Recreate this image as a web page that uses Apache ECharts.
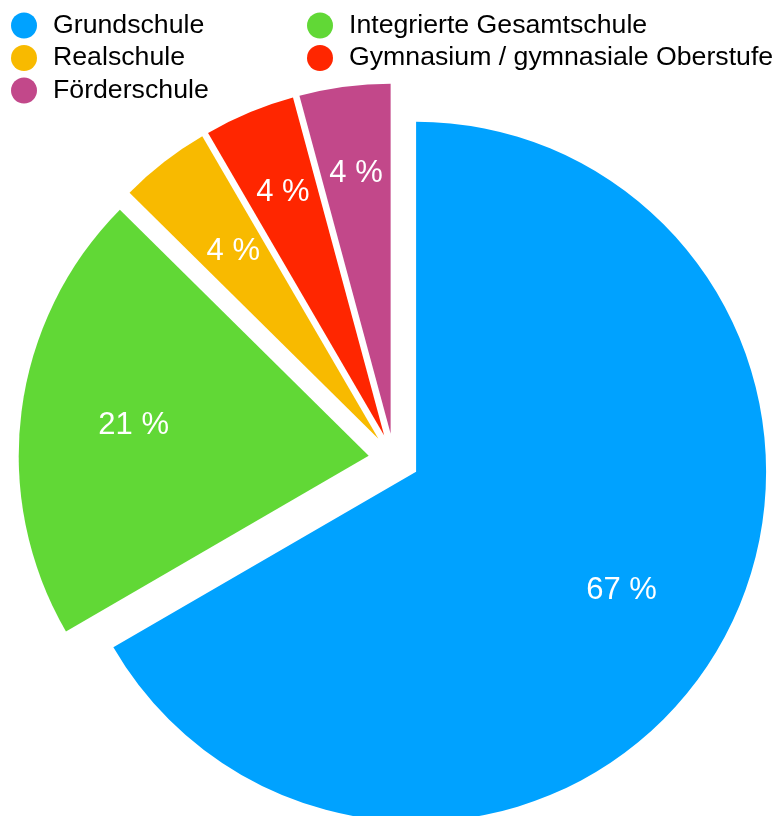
<!DOCTYPE html>
<html>
<head>
<meta charset="utf-8">
<script src="https://cdn.jsdelivr.net/npm/echarts@6/dist/echarts.min.js"></script>
<style>
html,body{margin:0;padding:0;background:#fff;}
#chart{width:779px;height:816px;}
</style>
</head>
<body>
<div id="chart"></div>
<script>
const categories = ['Grundschule', 'Integrierte Gesamtschule', 'Realschule', 'Gymnasium / gymnasiale Oberstufe', 'Förderschule'];
const values = [66.7, 20.8, 4.2, 4.2, 4.2];
const colors = ['#00A2FF', '#61D836', '#F8BA00', '#FF2600', '#C2488A'];
const outerLabelIdx = [3, 4];

const FONT = '"Liberation Sans", Arial, Helvetica, sans-serif';
const CENTER = [394, 459];
const R = 350;
const OFFSET = 25.5;

const pieData = categories.map((c, i) => ({
  name: c, value: values[i], selected: true,
  itemStyle: { color: colors[i] }
}));

function labelSeries(inner, showIdx) {
  return {
    type: 'pie',
    silent: true,
    startAngle: 90,
    clockwise: true,
    center: CENTER,
    radius: [inner, R],
    selectedMode: 'multiple',
    selectedOffset: OFFSET,
    itemStyle: { color: 'rgba(0,0,0,0)', borderWidth: 0 },
    labelLine: { show: false },
    data: values.map((v, i) => ({
      name: 'lbl' + inner + '_' + i, value: v, selected: true,
      label: {
        show: showIdx.includes(i),
        position: 'inside',
        formatter: Math.round(v) + ' %',
        color: '#fff',
        fontSize: 31,
        fontFamily: FONT
      }
    }))
  };
}

const legendText = { fontSize: 26.7, lineHeight: 26, color: '#000', fontFamily: FONT, padding: [0, 0, 0, 11] };

const chart = echarts.init(document.getElementById('chart'));
chart.setOption({
  animation: false,
  backgroundColor: '#fff',
  legend: [
    {
      orient: 'vertical', left: 11, top: 12, padding: 0,
      icon: 'circle', itemWidth: 26, itemHeight: 26, itemGap: 5.5,
      data: [categories[0], categories[2], categories[4]],
      textStyle: legendText,
      selectedMode: false
    },
    {
      orient: 'vertical', left: 307, top: 12, padding: 0,
      icon: 'circle', itemWidth: 26, itemHeight: 26, itemGap: 5.5,
      data: [categories[1], categories[3]],
      textStyle: legendText,
      selectedMode: false
    }
  ],
  series: [
    {
      type: 'pie',
      startAngle: 90,
      clockwise: true,
      center: CENTER,
      radius: [0, R],
      selectedMode: 'multiple',
      selectedOffset: OFFSET,
      itemStyle: { borderWidth: 0 },
      label: { show: false },
      labelLine: { show: false },
      emphasis: { disabled: true },
      data: pieData
    },
    labelSeries(118, [0, 1, 2]),
    labelSeries(170, outerLabelIdx)
  ]
});
</script>
</body>
</html>
